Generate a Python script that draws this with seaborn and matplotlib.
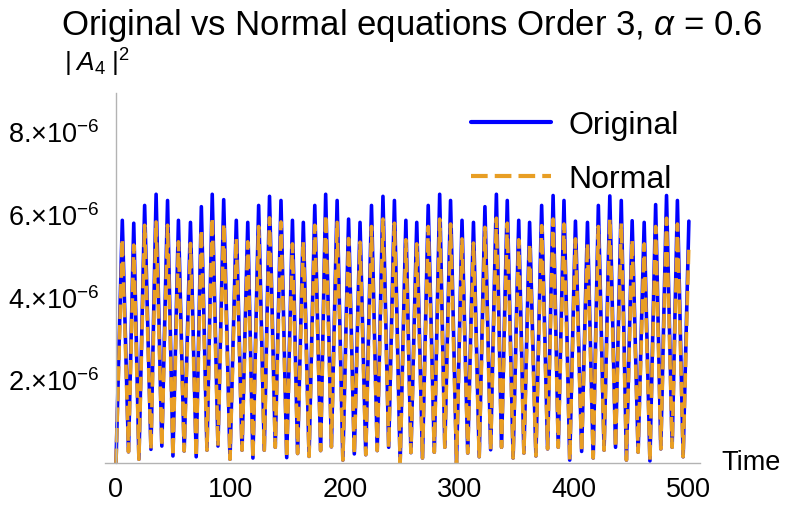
import seaborn as sns
import matplotlib.pyplot as plt
import pandas as pd
from matplotlib.ticker import MultipleLocator, FixedLocator, FuncFormatter

# Dados (valores em unidades de 1e-6)
trough_t = [0, 10.9, 20, 30.5, 40, 49.7, 59.5, 70, 79.4, 89, 99.5, 110, 119.5,
            129.4, 139, 149, 158.5, 168.5, 178.6, 188, 198, 208, 218, 228, 238, 248,
            257.4, 267.5, 277.8, 287, 297.2, 307, 317, 327, 336.5, 346.6, 356, 366.5, 376.7,
            386, 396, 406.4, 416.5, 426, 436, 445.5, 455.7, 466, 475.5, 485.4, 495]
trough_v = [0.0, 0.27, 0.09, 0.33, 0.41, 0.17, 0.29, 0.15, 0.31, 0.41, 0.09, 0.31, 0.12,
            0.31, 0.38, 0.13, 0.23, 0.16, 0.30, 0.39, 0.07, 0.22, 0.20, 0.30, 0.38, 0.0,
            0.25, 0.12, 0.26, 0.38, 0.0, 0.24, 0.15, 0.32, 0.38, 0.12, 0.24, 0.17, 0.34,
            0.38, 0.07, 0.28, 0.12, 0.31, 0.38, 0.07, 0.26, 0.05, 0.34, 0.38, 0.15]
peak_t = [5.5, 15.5, 25, 35, 45, 54.5, 65, 74.5, 84, 94,
          105, 115, 124.5, 134, 144, 154, 163.5, 173.5, 183, 193,
          203, 213, 223, 233, 243, 253, 262.5, 272.5, 282.5, 292,
          302, 312, 322, 332, 341.5, 351.5, 361, 371.5, 381.5, 391,
          401, 411.5, 421, 431, 441, 450.5, 461, 471, 480.5, 490]
original_peak = [5.87, 5.80, 6.23, 6.50, 6.35, 5.87, 5.82, 6.20, 6.50, 6.37,
                 5.87, 5.82, 6.23, 6.45, 6.35, 5.87, 5.82, 6.23, 6.50, 6.35,
                 5.90, 5.82, 6.23, 6.45, 6.35, 5.87, 5.82, 6.23, 6.50, 6.35,
                 5.87, 5.82, 6.20, 6.50, 6.35, 5.87, 5.82, 6.23, 6.47, 6.35,
                 5.85, 5.82, 6.23, 6.46, 6.35, 5.86, 5.82, 6.25, 6.47, 6.35]
normal_peak = [5.42, 5.27, 5.75, 5.83, 5.75, 5.35, 5.31, 5.64, 5.93, 5.79,
               5.43, 5.35, 5.72, 5.93, 5.83, 5.30, 5.36, 5.75, 6.00, 5.82,
               5.43, 5.34, 5.72, 5.90, 5.80, 5.40, 5.30, 5.72, 5.90, 5.78,
               5.42, 5.32, 5.70, 5.92, 5.80, 5.40, 5.30, 5.74, 5.90, 5.78,
               5.42, 5.32, 5.72, 5.90, 5.80, 5.40, 5.30, 5.72, 5.92, 5.78]
end_t = 500
original_end = 5.85
normal_end = 5.30

yticks = [2, 4, 6, 8]
xticks = [0, 100, 200, 300, 400, 500]


def series(peaks, end_val, name):
    rows = []
    for i, (t, v) in enumerate(zip(trough_t, trough_v)):
        rows.append((t, v * 1e-6, name))
        if i < len(peak_t):
            rows.append((peak_t[i], peaks[i] * 1e-6, name))
    rows.append((end_t, end_val * 1e-6, name))
    return rows


df = pd.DataFrame(series(original_peak, original_end, 'Original')
                  + series(normal_peak, normal_end, 'Normal'),
                  columns=['Time', 'A4', 'serie'])

sns.set_style('white')
plt.rcParams['font.family'] = ['Liberation Sans', 'DejaVu Sans']
plt.rcParams['mathtext.fontset'] = 'custom'
plt.rcParams['mathtext.rm'] = 'Liberation Sans'
plt.rcParams['mathtext.it'] = 'Liberation Sans:italic'
plt.rcParams['text.color'] = 'black'
plt.rcParams['xtick.color'] = 'black'
plt.rcParams['ytick.color'] = 'black'

fig = plt.figure(figsize=(7.86, 5.07), dpi=100)
ax = fig.add_axes([0.133, 0.0868, 0.758, 0.7298])

sns.lineplot(data=df, x='Time', y='A4', hue='serie', style='serie',
             palette={'Original': '#0000ff', 'Normal': '#e89e24'},
             dashes={'Original': '', 'Normal': (4, 1.7)},
             estimator=None, sort=False, linewidth=2.6, ax=ax)

ax.set_xlim(-10, 510)
ax.set_ylim(0, 8.95e-6)
for s in ['top', 'right']:
    ax.spines[s].set_visible(False)
ax.spines['left'].set_position(('data', 0))
for s in ['left', 'bottom']:
    ax.spines[s].set_color('#b3b3b3')
    ax.spines[s].set_linewidth(1.0)

ax.xaxis.set_major_locator(FixedLocator(xticks))
ax.xaxis.set_minor_locator(MultipleLocator(20))
ax.yaxis.set_major_locator(FixedLocator([v * 1e-6 for v in yticks]))
ax.yaxis.set_minor_locator(MultipleLocator(0.5e-6))
ax.yaxis.set_major_formatter(FuncFormatter(lambda v, p: '%d.\u00d710$^{-6}$' % round(v * 1e6)))
ax.tick_params(which='both', direction='in', color='#b3b3b3', labelsize=19.5)
ax.tick_params(which='major', length=6, width=1)
ax.tick_params(which='minor', length=3.5, width=0.8)
ax.tick_params(axis='x', pad=10)
ax.tick_params(axis='y', pad=12)
ax.set_xlabel('')
ax.set_ylabel('')

ax.text(1.035, 0.0, 'Time', transform=ax.transAxes, fontsize=19.5, va='center', ha='left')
fig.text(64 / 786, 1 - 63 / 507, r'$|\;A_4\;|^2$', fontsize=19, va='center', ha='left')
fig.text(412 / 786, 1 - 25 / 507, r'Original vs Normal equations Order 3, $\alpha$ = 0.6',
         fontsize=25, va='center', ha='center')

leg = ax.legend(loc='upper left', bbox_to_anchor=(0.567, 1.03), frameon=False,
                fontsize=23, handlelength=2.5, handletextpad=0.55, labelspacing=0.75)
for h in leg.get_lines():
    h.set_linewidth(3)

fig.savefig('out.png', dpi=100)
